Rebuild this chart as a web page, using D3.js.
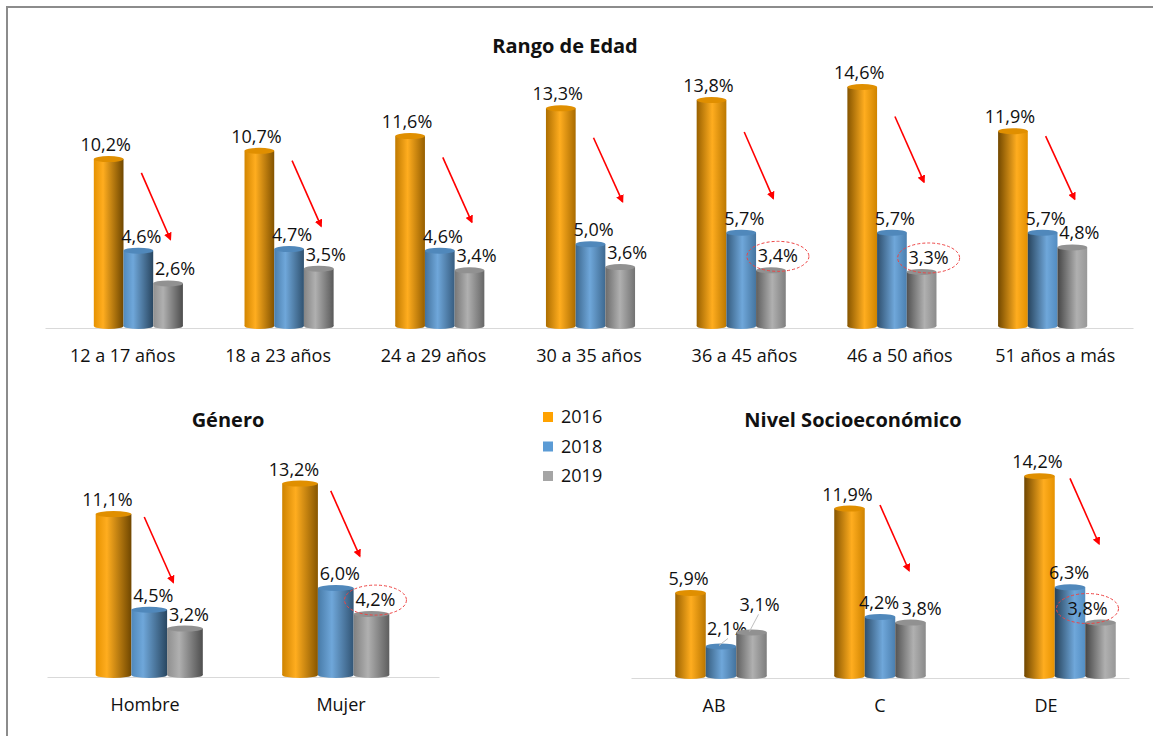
<!DOCTYPE html>
<html>
<head>
<meta charset="utf-8">
<script src="https://cdn.jsdelivr.net/npm/d3@7"></script>
<style>
  body { margin: 0; background: #fff; }
  text { font-family: "Open Sans", "Noto Sans", sans-serif; fill: #111; }
  .title { font-weight: bold; font-size: 20px; }
  .lbl { font-size: 18px; }
</style>
</head>
<body>
<div id="chart"></div>
<script>
// --- data ---
var years = ["2016", "2018", "2019"];
var colors = ["#ffa200", "#5b9bd5", "#a5a5a5"];

var ageCats = ["12 a 17 años", "18 a 23 años", "24 a 29 años", "30 a 35 años", "36 a 45 años", "46 a 50 años", "51 años a más"];
var age2016 = [10.2, 10.7, 11.6, 13.3, 13.8, 14.6, 11.9];
var age2018 = [4.6, 4.7, 4.6, 5.0, 5.7, 5.7, 5.7];
var age2019 = [2.6, 3.5, 3.4, 3.6, 3.4, 3.3, 4.8];
// red arrows (from / to, in % units), one per category, null = none
var ageArrowFrom = [9.35, 10.1, 10.3, 11.5, 11.85, 12.8, 11.6];
var ageArrowTo = [5.3, 6.1, 6.35, 7.6, 7.8, 8.8, 7.75];
var ageCircled = ["36 a 45 años", "46 a 50 años"];

var genCats = ["Hombre", "Mujer"];
var gen2016 = [11.1, 13.2];
var gen2018 = [4.5, 6.0];
var gen2019 = [3.2, 4.2];
var genArrowFrom = [10.9, 12.7];
var genArrowTo = [6.4, 8.2];
var genCircled = ["Mujer"];

var nseCats = ["AB", "C", "DE"];
var nse2016 = [5.9, 11.9, 14.2];
var nse2018 = [2.1, 4.2, 6.3];
var nse2019 = [3.1, 3.8, 3.8];
var nseArrowFrom = [null, 12.15, 14.05];
var nseArrowTo = [null, 7.5, 9.4];
var nseCircled = ["DE"];

var W = 1153, H = 736;
var fmt = function (v) { return d3.format(".1f")(v).replace(".", ",") + "%"; };

var svg = d3.select("#chart").append("svg")
    .attr("width", W)
    .attr("height", H);
var defs = svg.append("defs");

defs.append("marker")
    .attr("id", "arrowhead")
    .attr("viewBox", "0 0 10 10")
    .attr("refX", 8).attr("refY", 5)
    .attr("markerWidth", 5).attr("markerHeight", 5)
    .attr("orient", "auto")
  .append("path")
    .attr("d", "M0,0L10,5L0,10z")
    .style("fill", "#ff0000");

// frame
svg.append("rect")
    .attr("x", 7).attr("y", 7)
    .attr("width", W + 20).attr("height", H + 20)
    .style("fill", "none")
    .style("stroke", "#8c8c8c")
    .style("stroke-width", 2);

var gid = 0;
function cylinderGradient(color, t) {
    var id = "cyl" + (gid++);
    var dark = function (k) { return d3.interpolateRgb(color, "#000")(k); };
    var light = d3.interpolateRgb(color, "#fff")(0.12);
    var g = defs.append("linearGradient").attr("id", id)
        .attr("x1", 0).attr("x2", 1).attr("y1", 0).attr("y2", 0);
    g.append("stop").attr("offset", 0).attr("stop-color", dark(0.08 + 0.5 * t));
    g.append("stop").attr("offset", 0.3 + 0.35 * t).attr("stop-color", light);
    g.append("stop").attr("offset", 1).attr("stop-color", dark(0.08 + 0.5 * (1 - t)));
    return "url(#" + id + ")";
}

function drawPanel(p) {
    var g = svg.append("g");
    var series = [p.s2016, p.s2018, p.s2019];

    var xLab = d3.scaleBand().domain(p.cats).range(p.axisRange);
    var xBar = d3.scaleBand().domain(p.cats).range(p.barRange);
    var y = d3.scaleLinear().domain([0, 10]).range([p.base, p.base - 10 * p.ppu]);
    // centre of a bar group (3d perspective pushes groups slightly off the label)
    var groupX = function (c, i) {
        return xBar(c) + xBar.bandwidth() / 2 + (p.shift ? p.shift[i] : 0);
    };

    var axis = d3.axisBottom(xLab).tickSizeInner(0).tickSizeOuter(0).tickPadding(p.tickPad);
    var ax = g.append("g")
        .attr("transform", "translate(0," + (p.base + 2) + ")")
        .call(axis);
    ax.select(".domain").style("stroke", "#d9d9d9");
    ax.selectAll("text").attr("class", "lbl").style("font-size", "18px").style("fill", "#111")
        .style("font-family", "'Open Sans', sans-serif");

    g.append("text")
        .attr("class", "title")
        .attr("x", p.titleX).attr("y", p.titleY)
        .attr("text-anchor", "middle")
        .text(p.title);

    var bw = p.barW;
    p.cats.forEach(function (c, i) {
        var cx0 = groupX(c, i) - 1.5 * bw;
        series.forEach(function (s, k) {
            var v = s[i];
            var x = cx0 + k * bw;
            var top = y(v), bot = y(0);
            var t = Math.max(0, Math.min(1, (x - 60) / 1000));
            var fill = cylinderGradient(colors[k], t);
            var ry = 3;
            g.append("ellipse")
                .attr("cx", x + bw / 2).attr("cy", bot)
                .attr("rx", bw / 2).attr("ry", ry)
                .style("fill", fill);
            g.append("rect")
                .attr("x", x).attr("y", top)
                .attr("width", bw).attr("height", bot - top)
                .style("fill", fill);
            g.append("ellipse")
                .attr("cx", x + bw / 2).attr("cy", top)
                .attr("rx", bw / 2).attr("ry", ry)
                .style("fill", d3.interpolateRgb(colors[k], "#000")(0.12));

            // value label
            var lift = 8;
            var lx = x + bw / 2 + p.labelDx[k];
            var lead = p.leaders && p.leaders.filter(function (d) { return d.cat === c && d.series === k; })[0];
            if (lead) {
                lift = lead.lift;
                lx += lead.dx;
                if (lead.line) {
                    g.append("line")
                        .attr("x1", x + bw / 2 - 2).attr("y1", top - 1)
                        .attr("x2", x + bw / 2 + 7).attr("y2", top - lift + 3)
                        .style("stroke", "#bfbfbf").style("stroke-width", 1);
                }
            }
            g.append("text")
                .attr("class", "lbl")
                .attr("x", lx).attr("y", top - lift)
                .attr("text-anchor", "middle")
                .text(fmt(v));

            if (k === 2 && p.circled.indexOf(c) >= 0) {
                g.append("ellipse")
                    .attr("cx", lx).attr("cy", top - lift - 6)
                    .attr("rx", 31).attr("ry", 15)
                    .style("fill", "none")
                    .style("stroke", "#ee4444")
                    .style("stroke-width", 1)
                    .style("stroke-dasharray", "3,2");
            }
        });

        if (p.arrowFrom[i] != null) {
            var ax0 = groupX(c, i) + p.arrowDx;
            g.append("line")
                .attr("x1", ax0).attr("y1", y(p.arrowFrom[i]))
                .attr("x2", ax0 + 29).attr("y2", y(p.arrowTo[i]))
                .style("stroke", "#ff0000")
                .style("stroke-width", 1.6)
                .attr("marker-end", "url(#arrowhead)");
        }
    });
}

drawPanel({
    cats: ageCats, s2016: age2016, s2018: age2018, s2019: age2019,
    arrowFrom: ageArrowFrom, arrowTo: ageArrowTo, circled: ageCircled,
    axisRange: [45, 1133], barRange: [63, 1118], barW: 29.7,
    base: 326, ppu: 16.37, tickPad: 21, labelDx: [-3, 3, 7], arrowDx: 3,
    title: "Rango de Edad", titleX: 565, titleY: 53
});

drawPanel({
    cats: genCats, s2016: gen2016, s2018: gen2018, s2019: gen2019,
    arrowFrom: genArrowFrom, arrowTo: genArrowTo, circled: genCircled,
    axisRange: [47, 439], barRange: [56, 429], barW: 35.7,
    base: 675, ppu: 14.5, tickPad: 21, labelDx: [-6, 4, 4], arrowDx: -5,
    title: "Género", titleX: 228, titleY: 427
});

drawPanel({
    cats: nseCats, s2016: nse2016, s2018: nse2018, s2019: nse2019,
    arrowFrom: nseArrowFrom, arrowTo: nseArrowTo, circled: nseCircled,
    axisRange: [631, 1129], barRange: [631, 1129], barW: 30.5, shift: [7, 0, 24],
    base: 676, ppu: 14.07, tickPad: 21, labelDx: [-2, -1, 11], arrowDx: 0,
    leaders: [{ cat: "AB", series: 1, lift: 11, dx: 7, line: true },
              { cat: "AB", series: 2, lift: 21, dx: -3, line: true },
              { cat: "DE", series: 2, lift: 8, dx: -24, line: false }],
    title: "Nivel Socioeconómico", titleX: 853, titleY: 427
});

// legend
var legend = svg.append("g").attr("transform", "translate(543,412)");
years.forEach(function (yr, i) {
    var row = legend.append("g").attr("transform", "translate(0," + (i * 29.5) + ")");
    row.append("rect").attr("width", 10).attr("height", 10).style("fill", colors[i]);
    row.append("text").attr("class", "lbl").attr("x", 18).attr("y", 11).text(yr);
});
</script>
</body>
</html>
